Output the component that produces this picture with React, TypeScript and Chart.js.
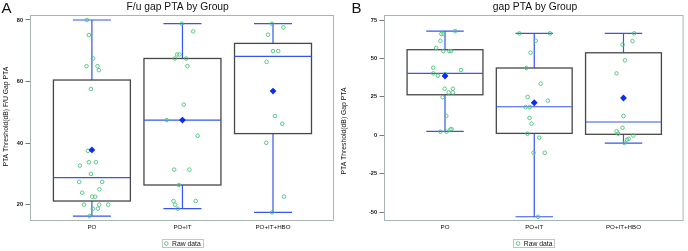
import React, { useEffect, useRef } from 'react';
import { Chart, registerables } from 'chart.js';

Chart.register(...registerables);

const FONT = "'Liberation Sans', Arial, sans-serif";

const categories = ['PO', 'PO+IT', 'PO+IT+HBO'];
const legendLabel = 'Raw data';

// ---- Panel A: F/u gap PTA ----
const fuTitle = 'F/u gap PTA by Group';
const fuYTitle = 'PTA Threshold(dB) F/U Gap PTA';
const fuTicks = [20, 40, 60, 80];
const fuQ1 = [21.2, 26.4, 43.1];
const fuMedian = [28.8, 47.5, 68.2];
const fuQ3 = [60.5, 67.5, 72.4];
const fuLow = [16.3, 18.7, 17.5];
const fuHigh = [80, 78.8, 78.8];
const fuMean = [37.8, 47.5, 56.9];
const fuRawPO = [80, 75.1, 67.5, 65, 65, 63.7, 57.6, 37.5, 33.8, 33.8, 32.7, 30.0, 27.4, 27.4, 25.0, 23.9, 22.6, 22.6, 20, 20, 20, 18.7, 18.7, 16.3];
const fuJitPO = [-0.055, -0.033, 0.014, -0.06, 0.062, 0.077, -0.011, -0.044, -0.033, 0.044, -0.132, -0.011, -0.14, 0.114, 0.084, -0.107, 0.003, 0.036, -0.088, 0.081, 0.18, 0.011, 0.066, -0.026];
const fuRawIT = [78.8, 76.3, 68.8, 68.8, 67.5, 67.5, 65.0, 52.5, 47.5, 42.4, 31.4, 31.4, 26.4, 21.2, 21.2, 20, 18.7];
const fuJitIT = [-0.008, 0.118, -0.059, -0.033, -0.085, 0.041, 0.055, 0.014, -0.174, 0.168, -0.091, 0.077, -0.04, -0.099, 0.147, -0.081, -0.052];
const fuRawHBO = [78.8, 77.6, 75.2, 69.9, 69.9, 66.4, 48.8, 46.3, 40.1, 22.6, 17.5];
const fuJitHBO = [-0.011, 0.114, -0.055, 0, 0.058, -0.071, 0.022, 0.102, -0.074, 0.121, -0.011];

// ---- Panel B: gap PTA ----
const gapTitle = 'gap PTA by Group';
const gapYTitle = 'PTA Threshold(dB) Gap PTA';
const gapTicks = [-50, -25, 0, 25, 50, 75];
const gapQ1 = [26.4, 1.3, 0.7];
const gapMedian = [40.3, 18.6, 8.7];
const gapQ3 = [55.7, 43.8, 53.7];
const gapLow = [2.6, -52.9, -5.0];
const gapHigh = [67.8, 66.3, 66.3];
const gapMean = [38.6, 21.2, 24.3];
const gapRawPO = [67.8, 65.9, 65.9, 61.5, 56.8, 54.8, 54.8, 54.8, 44.0, 42.5, 40.3, 38.8, 39.7, 30.3, 30.3, 27.9, 27.9, 24.8, 12.7, 2.4, 2.4, 3.8, 4.1];
const gapJitPO = [0.114, -0.041, -0.016, -0.052, -0.099, -0.019, 0.048, 0.067, -0.132, 0.179, -0.132, -0.08, 0.003, -0.004, 0.089, 0.042, 0.087, -0.027, 0.014, -0.052, 0.017, 0.059, 0.073];
const gapRawIT = [66.3, 66.3, 61.5, 53.8, 43.8, 33.6, 25.0, 22.6, 18.4, 18.4, 11.3, 7.6, 1.1, -1.5, -11.3, -11.3, -52.9];
const gapJitIT = [-0.167, 0.176, 0.017, -0.041, -0.089, 0.072, -0.074, 0.152, -0.097, -0.05, -0.053, -0.031, -0.076, 0.056, -0.008, 0.117, 0.042];
const gapRawHBO = [66.3, 61.3, 59.0, 48.8, 40.3, 12.6, 5.0, 2.6, 1.1, -0.1, -2.2, -2.8, -5.0];
const gapJitHBO = [0.12, 0.101, -0.011, 0.016, -0.078, 0, -0.011, -0.077, -0.06, 0.111, 0.057, 0.04, 0.011];

const GREEN = '#4cc47c';
const BLUE = '#3556ee';
const MEAN_BLUE = '#0b2df2';
const BOX = '#474747';
const FRAME = '#a9b5b5';

type PanelProps = {
  left: number;
  width: number;
  letter: string;
  letterX: number;
  title: string;
  titleX: number;
  yTitle: string;
  yTitleX: number;
  yTitleY: number;
  yMin: number;
  yMax: number;
  yTicks: number[];
  plotLeft: number;
  padRight: number;
  q1: number[];
  median: number[];
  q3: number[];
  low: number[];
  high: number[];
  mean: number[];
  raw: number[][];
  jitter: number[][];
};

const boxPlugin = {
  id: 'boxes',
  beforeDatasetsDraw(chart: any, _args: any, opts: any) {
    const { ctx, chartArea: ca } = chart;
    const x = chart.scales.x;
    const y = chart.scales.y;
    ctx.save();
    ctx.strokeStyle = FRAME;
    ctx.lineWidth = 1;
    ctx.strokeRect(ca.left, ca.top, ca.right - ca.left, ca.bottom - ca.top);
    for (let i = 0; i < categories.length; i++) {
      const c = i + 1;
      const cx = x.getPixelForValue(c);
      const bl = x.getPixelForValue(c - 0.425);
      const br = x.getPixelForValue(c + 0.425);
      const capL = x.getPixelForValue(c - 0.21);
      const capR = x.getPixelForValue(c + 0.21);
      const yq1 = y.getPixelForValue(opts.q1[i]);
      const yq3 = y.getPixelForValue(opts.q3[i]);
      const ymed = y.getPixelForValue(opts.median[i]);
      const ylo = y.getPixelForValue(opts.low[i]);
      const yhi = y.getPixelForValue(opts.high[i]);
      ctx.strokeStyle = BLUE;
      ctx.lineWidth = 1.2;
      ctx.beginPath();
      ctx.moveTo(cx, yq3); ctx.lineTo(cx, yhi);
      ctx.moveTo(cx, yq1); ctx.lineTo(cx, ylo);
      ctx.moveTo(capL, yhi); ctx.lineTo(capR, yhi);
      ctx.moveTo(capL, ylo); ctx.lineTo(capR, ylo);
      ctx.stroke();
      ctx.strokeStyle = BOX;
      ctx.lineWidth = 1.3;
      ctx.strokeRect(bl, yq3, br - bl, yq1 - yq3);
      ctx.strokeStyle = BLUE;
      ctx.lineWidth = 1.2;
      ctx.beginPath();
      ctx.moveTo(bl, ymed); ctx.lineTo(br, ymed);
      ctx.stroke();
    }
    ctx.restore();
  },
  afterDraw(chart: any, _args: any, opts: any) {
    const { ctx, chartArea: ca } = chart;
    ctx.save();
    ctx.fillStyle = '#111';
    // panel letter
    ctx.font = `15px ${FONT}`;
    ctx.textAlign = 'left';
    ctx.textBaseline = 'alphabetic';
    ctx.fillText(opts.letter, opts.letterX, 13.4);
    // title
    ctx.font = `10.3px ${FONT}`;
    ctx.textAlign = 'center';
    ctx.fillText(opts.title, opts.titleX, 10.3);
    // y title
    ctx.save();
    ctx.translate(opts.yTitleX, opts.yTitleY);
    ctx.rotate(-Math.PI / 2);
    ctx.font = `6.8px ${FONT}`;
    ctx.textAlign = 'center';
    ctx.textBaseline = 'middle';
    ctx.fillText(opts.yTitle, 0, 0);
    ctx.restore();
    // legend
    const lcx = (ca.left + ca.right) / 2;
    const lw = 41;
    const lx = lcx - lw / 2;
    ctx.strokeStyle = '#c4c4c4';
    ctx.lineWidth = 1;
    ctx.strokeRect(Math.round(lx) + 0.5, 239.5, lw, 8);
    ctx.strokeStyle = GREEN;
    ctx.lineWidth = 0.9;
    ctx.beginPath();
    ctx.arc(lx + 4.8, 243.5, 1.8, 0, Math.PI * 2);
    ctx.stroke();
    ctx.fillStyle = '#111';
    ctx.font = `6.8px ${FONT}`;
    ctx.textAlign = 'left';
    ctx.textBaseline = 'middle';
    ctx.fillText(legendLabel, lx + 10.5, 243.8);
    ctx.restore();
  },
};

function Panel(p: PanelProps) {
  const ref = useRef<HTMLCanvasElement | null>(null);
  useEffect(() => {
    if (!ref.current) return;
    const rawPoints: { x: number; y: number }[] = [];
    p.raw.forEach((vals, gi) => {
      vals.forEach((v, j) => rawPoints.push({ x: gi + 1 + p.jitter[gi][j], y: v }));
    });
    const meanPoints = p.mean.map((v, i) => ({ x: i + 1, y: v }));
    const chart = new Chart(ref.current, {
      type: 'scatter',
      data: {
        datasets: [
          {
            label: 'Mean',
            data: meanPoints,
            pointStyle: 'rectRot',
            radius: 3.4,
            backgroundColor: MEAN_BLUE,
            borderColor: MEAN_BLUE,
            borderWidth: 0,
          } as any,
          {
            label: legendLabel,
            data: rawPoints,
            pointStyle: 'circle',
            radius: 1.8,
            borderColor: GREEN,
            backgroundColor: 'rgba(0,0,0,0)',
            borderWidth: 0.9,
          } as any,
        ],
      },
      plugins: [boxPlugin],
      options: {
        animation: false,
        responsive: false,
        devicePixelRatio: 1,
        events: [],
        layout: { padding: { top: 15.5, right: p.padRight, left: 0, bottom: 0 } },
        plugins: {
          legend: { display: false },
          tooltip: { enabled: false },
          title: { display: false },
          boxes: {
            q1: p.q1, median: p.median, q3: p.q3, low: p.low, high: p.high,
            letter: p.letter, letterX: p.letterX, title: p.title, titleX: p.titleX,
            yTitle: p.yTitle, yTitleX: p.yTitleX, yTitleY: p.yTitleY,
          },
        } as any,
        scales: {
          x: {
            type: 'linear',
            min: 0.322,
            max: 3.668,
            afterBuildTicks: (s: any) => { s.ticks = [1, 2, 3].map((v) => ({ value: v })); },
            afterFit: (s: any) => { s.height = 30.5; },
            grid: { display: false, drawTicks: false },
            border: { display: false },
            ticks: {
              autoSkip: false,
              maxRotation: 0,
              padding: 3,
              color: '#111',
              font: { size: 6.2, family: FONT },
              callback: (v: any) => categories[Math.round(Number(v)) - 1] ?? '',
            },
          },
          y: {
            type: 'linear',
            min: p.yMin,
            max: p.yMax,
            afterBuildTicks: (s: any) => { s.ticks = p.yTicks.map((v) => ({ value: v })); },
            afterFit: (s: any) => { s.width = p.plotLeft; },
            grid: { drawOnChartArea: false, tickLength: 5, color: '#777', tickWidth: 1 },
            border: { display: false },
            ticks: {
              padding: 2.5,
              color: '#111',
              font: { size: 5.6, weight: 'bold', family: FONT },
            },
          },
        } as any,
      },
    });
    return () => chart.destroy();
  }, []);
  return (
    <canvas
      ref={ref}
      width={p.width}
      height={251}
      style={{ position: 'absolute', left: p.left, top: 0, width: p.width, height: 251 }}
    />
  );
}

export default function App() {
  return (
    <div style={{ position: 'absolute', left: 0, top: 0, width: 688, height: 251, background: '#fff', overflow: 'hidden' }}>
      <Panel
        left={0}
        width={340}
        letter="A"
        letterX={1.5}
        title={fuTitle}
        titleX={177.7}
        yTitle={fuYTitle}
        yTitleX={5.8}
        yTitleY={116.7}
        yMin={14.87}
        yMax={81.46}
        yTicks={fuTicks}
        plotLeft={30.5}
        padRight={6.5}
        q1={fuQ1}
        median={fuMedian}
        q3={fuQ3}
        low={fuLow}
        high={fuHigh}
        mean={fuMean}
        raw={[fuRawPO, fuRawIT, fuRawHBO]}
        jitter={[fuJitPO, fuJitIT, fuJitHBO]}
      />
      <Panel
        left={340}
        width={348}
        letter="B"
        letterX={11.5}
        title={gapTitle}
        titleX={195}
        yTitle={gapYTitle}
        yTitleX={4.6}
        yTitleY={131}
        yMin={-55.33}
        yMax={77.93}
        yTicks={gapTicks}
        plotLeft={44.5}
        padRight={2.5}
        q1={gapQ1}
        median={gapMedian}
        q3={gapQ3}
        low={gapLow}
        high={gapHigh}
        mean={gapMean}
        raw={[gapRawPO, gapRawIT, gapRawHBO]}
        jitter={[gapJitPO, gapJitIT, gapJitHBO]}
      />
    </div>
  );
}
